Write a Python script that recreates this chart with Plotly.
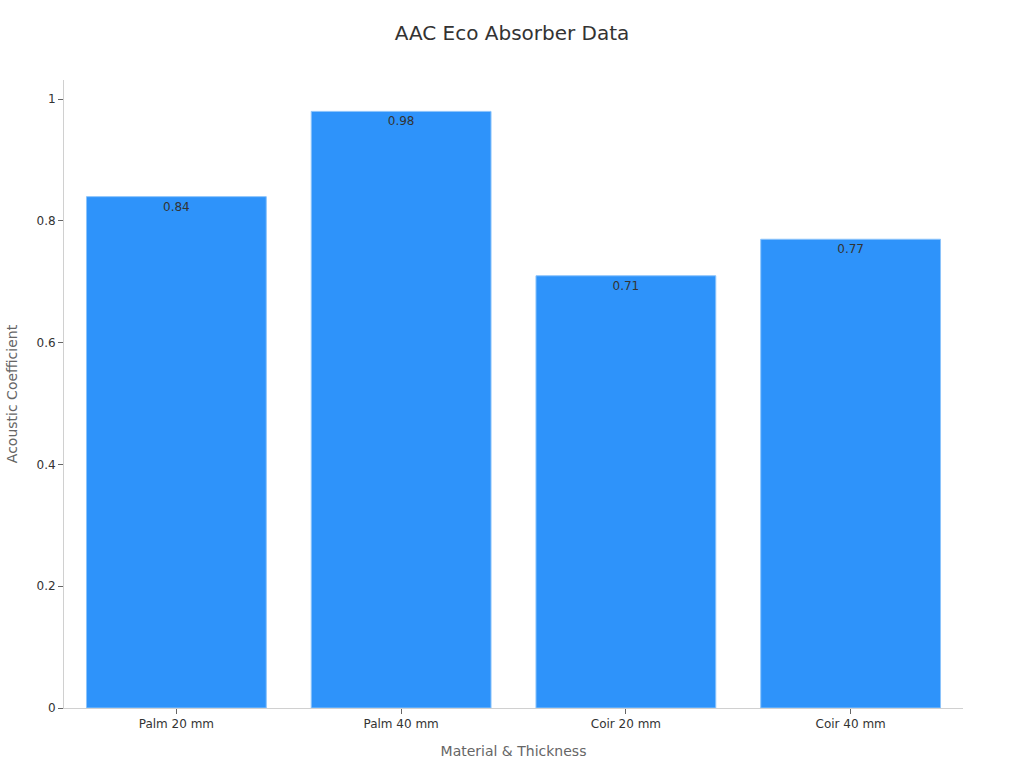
import plotly.graph_objects as go

materials = ["Palm 20 mm", "Palm 40 mm", "Coir 20 mm", "Coir 40 mm"]
coefficients = [0.84, 0.98, 0.71, 0.77]

fig = go.Figure(go.Bar(
    x=materials,
    y=coefficients,
    text=[f"{v:.2f}" for v in coefficients],
    textposition="inside",
    insidetextanchor="end",
    textfont=dict(color="#333333", size=12),
    marker=dict(color="#2E93FA", line=dict(color="#8CC4FB", width=1)),
))

fig.update_layout(
    title=dict(text="AAC Eco Absorber Data", x=0.5, y=0.966, xanchor="center",
               font=dict(size=20, color="#333333")),
    font=dict(family="DejaVu Sans, sans-serif", size=12, color="#333333"),
    width=1024,
    height=768,
    margin=dict(l=64, r=61, t=80, b=60),
    plot_bgcolor="white",
    paper_bgcolor="white",
    bargap=0.2,
    showlegend=False,
)
fig.update_xaxes(
    title=dict(text="Material & Thickness", font=dict(size=14, color="#666666")),
    showline=True, linecolor="#d0d0d0", showgrid=False, automargin=False,
    ticks="outside", ticklen=5, tickcolor="#666666",
)
fig.update_yaxes(
    title=dict(text="Acoustic Coefficient", font=dict(size=14, color="#666666")),
    showline=True, linecolor="#d0d0d0", showgrid=False, zeroline=False, automargin=False,
    ticks="outside", ticklen=5, tickcolor="#666666",
    tickvals=[0, 0.2, 0.4, 0.6, 0.8, 1], ticktext=["0", "0.2", "0.4", "0.6", "0.8", "1"],
)

# drop the default 8px body margin so the 1024x768 figure fills the window
fig.write_html("out.html", config={"displayModeBar": False},
               post_script="document.body.style.margin = '0';")
